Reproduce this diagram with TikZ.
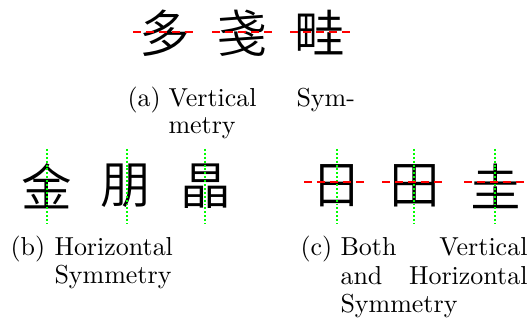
\documentclass[tikz,border=0pt]{standalone}
\usepackage{fontspec}
\newfontfamily\cjk{Noto Sans CJK SC DemiLight}
\begin{document}
\begin{tikzpicture}[x=0.385pt,y=-0.385pt,
  glyph/.style={inner sep=0pt,text=black,font=\cjk\fontsize{19.5pt}{19.5pt}\selectfont},
  captext/.style={inner sep=0pt,anchor=base west,font=\fontsize{10pt}{12pt}\selectfont},
  haxis/.style={draw=red,line width=0.75pt,dash pattern=on 3pt off 2pt},
  vaxis/.style={draw=green,line width=0.75pt,dash pattern=on 0.75pt off 0.75pt}]
\useasboundingbox (0,0) rectangle (531,332);

% (a) characters with a horizontal axis
\node[glyph] (ga1) at (165,33) {多};
\node[glyph] (ga2) at (242,33) {戔};
\node[glyph] (ga3) at (320,33) {畦};
\coordinate (ha1l) at (133,32); \coordinate (ha1r) at (195,32);
\coordinate (ha2l) at (212,32); \coordinate (ha2r) at (272,32);
\coordinate (ha3l) at (290,32); \coordinate (ha3r) at (352,32);
\draw[haxis] (ha1l) -- (ha1r);
\draw[haxis] (ha2l) -- (ha2r);
\draw[haxis] (ha3l) -- (ha3r);

\node[captext] (ca1) at (127,107) {(a)};
\node[captext] (ca2) at (168,107) {Vertical};
\node[captext] (ca3) at (296,107) {Sym-};
\node[captext] (ca4) at (168,134) {metry};

% (b) characters with a vertical axis
\node[glyph] (gb1) at (47,186) {金};
\node[glyph] (gb2) at (126,186) {朋};
\node[glyph] (gb3) at (206,186) {晶};
\coordinate (vb1t) at (47,149); \coordinate (vb1b) at (47,224);
\coordinate (vb2t) at (127,149); \coordinate (vb2b) at (127,224);
\coordinate (vb3t) at (205,149); \coordinate (vb3b) at (205,224);
\draw[vaxis] (vb1t) -- (vb1b);
\draw[vaxis] (vb2t) -- (vb2b);
\draw[vaxis] (vb3t) -- (vb3b);

\node[captext] (cb1) at (10,256) {(b)};
\node[captext] (cb2) at (54,256) {Horizontal};
\node[captext] (cb3) at (54,284) {Symmetry};

% (c) characters with both axes
\node[glyph] (gc1) at (337,186) {日};
\node[glyph] (gc2) at (415,186) {田};
\node[glyph] (gc3) at (496,186) {圭};
\coordinate (hc1l) at (304,182); \coordinate (hc1r) at (365,182);
\coordinate (hc2l) at (382,182); \coordinate (hc2r) at (442,182);
\coordinate (hc3l) at (464,182); \coordinate (hc3r) at (525,182);
\coordinate (vc1t) at (337,149); \coordinate (vc1b) at (337,224);
\coordinate (vc2t) at (414,149); \coordinate (vc2b) at (414,224);
\coordinate (vc3t) at (495,149); \coordinate (vc3b) at (495,224);
\draw[vaxis] (vc1t) -- (vc1b);
\draw[vaxis] (vc2t) -- (vc2b);
\draw[vaxis] (vc3t) -- (vc3b);
\draw[haxis] (hc1l) -- (hc1r);
\draw[haxis] (hc2l) -- (hc2r);
\draw[haxis] (hc3l) -- (hc3r);

\node[captext] (cc1) at (300,256) {(c)};
\node[captext] (cc2) at (340,256) {Both};
\node[captext,anchor=base east] (cc3) at (528,256) {Vertical};
\node[captext] (cc4) at (340,285) {and};
\node[captext,anchor=base east] (cc5) at (528,285) {Horizontal};
\node[captext] (cc6) at (340,313) {Symmetry};
\end{tikzpicture}
\end{document}
